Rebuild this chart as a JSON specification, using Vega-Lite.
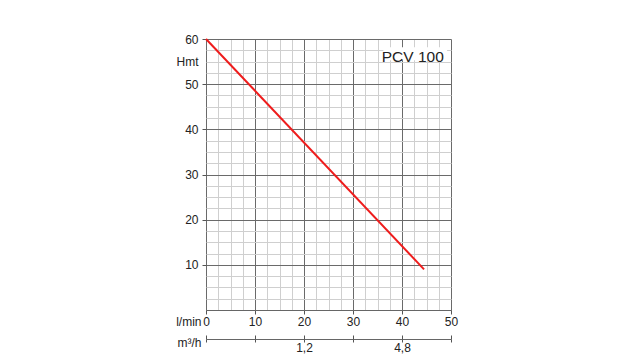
{
  "$schema": "https://vega.github.io/schema/vega-lite/v6.json",
  "width": 245,
  "height": 271,
  "autosize": {"type": "none"},
  "padding": {"left": 206, "top": 39, "right": 169, "bottom": 49},
  "background": "white",
  "config": {
    "view": {"stroke": null},
    "font": "Liberation Sans",
    "axis": {
      "labelFont": "Liberation Sans",
      "titleFont": "Liberation Sans",
      "labelFontSize": 12,
      "titleFontSize": 12,
      "titleFontWeight": "normal",
      "labelColor": "#222",
      "titleColor": "#222",
      "domainColor": "#666",
      "tickColor": "#555"
    }
  },
  "datasets": {
    "curve": [{"q": 0, "h": 60}, {"q": 44.5, "h": 9}],
    "label": [{"q": 42.2, "h": 56.0, "x1": 36.2, "x2": 49.2, "y1": 55.3, "y2": 58.2, "t": "PCV 100"}],
    "dummy": [{"q": 0}]
  },
  "layer": [
    {
      "data": {"name": "curve"},
      "mark": {"type": "line", "color": "#ee1c1c", "strokeWidth": 2},
      "encoding": {
        "x": {
          "field": "q", "type": "quantitative",
          "scale": {"domain": [0, 50], "nice": false, "zero": false},
          "axis": {
            "values": [0, 2.5, 5, 7.5, 10, 12.5, 15, 17.5, 20, 22.5, 25, 27.5, 30, 32.5, 35, 37.5, 40, 42.5, 45, 47.5, 50],
            "labelExpr": "datum.value % 10 === 0 ? datum.label : ''",
            "labelOverlap": false,
            "labelFlush": false,
            "grid": true,
            "gridColor": {"condition": {"test": "datum.value % 10 === 0", "value": "#6a6a6a"}, "value": "#cfcfcf"},
            "tickColor": {"condition": {"test": "datum.value % 10 === 0", "value": "#555"}, "value": "transparent"},
            "tickSize": 4,
            "labelPadding": 2,
            "domainColor": "#666",
            "title": "l/min",
            "titleX": -5,
            "titleY": 11,
            "titleAlign": "right",
            "titleBaseline": "middle",
            "titleAnchor": null
          }
        },
        "y": {
          "field": "h", "type": "quantitative",
          "scale": {"domain": [0, 60], "nice": false, "zero": false},
          "axis": {
            "values": [0, 2.5, 5, 7.5, 10, 12.5, 15, 17.5, 20, 22.5, 25, 27.5, 30, 32.5, 35, 37.5, 40, 42.5, 45, 47.5, 50, 52.5, 55, 57.5, 60],
            "labelExpr": "(datum.value % 10 === 0 && datum.value > 0) ? datum.label : ''",
            "labelOverlap": false,
            "labelFlush": false,
            "grid": true,
            "gridColor": {"condition": {"test": "datum.value % 10 === 0", "value": "#6a6a6a"}, "value": "#cfcfcf"},
            "tickColor": {"condition": {"test": "datum.value % 10 === 0 && datum.value > 0", "value": "#555"}, "value": "transparent"},
            "tickSize": 4,
            "labelPadding": 4,
            "domain": false,
            "title": "Hmt",
            "titleAngle": 0,
            "titleX": -8,
            "titleY": 22,
            "titleAlign": "right",
            "titleBaseline": "middle",
            "titleAnchor": null
          }
        }
      }
    },
    {
      "data": {"name": "label"},
      "mark": {"type": "rect", "color": "white"},
      "encoding": {
        "x": {"field": "x1", "type": "quantitative", "scale": {"domain": [0, 50], "nice": false, "zero": false}, "axis": null},
        "x2": {"field": "x2"},
        "y": {"field": "y1", "type": "quantitative", "scale": {"domain": [0, 60], "nice": false, "zero": false}, "axis": null},
        "y2": {"field": "y2"}
      }
    },
    {
      "data": {"name": "label"},
      "mark": {"type": "text", "font": "Liberation Sans", "fontSize": 15.5, "color": "#222", "align": "center", "baseline": "middle"},
      "encoding": {
        "x": {"field": "q", "type": "quantitative", "scale": {"domain": [0, 50], "nice": false, "zero": false}, "axis": null},
        "y": {"field": "h", "type": "quantitative", "scale": {"domain": [0, 60], "nice": false, "zero": false}, "axis": null},
        "text": {"field": "t"}
      }
    },
    {
      "data": {"name": "dummy"},
      "mark": {"type": "point", "opacity": 0},
      "encoding": {
        "x": {
          "field": "q", "type": "quantitative",
          "scale": {"domain": [0, 50], "nice": false, "zero": false},
          "axis": {
            "orient": "bottom",
            "offset": 29,
            "values": [0, 10, 20, 30, 40, 50],
            "labelExpr": "datum.value === 20 ? '1,2' : (datum.value === 40 ? '4,8' : '')",
            "labelOverlap": false,
            "labelFlush": false,
            "grid": false,
            "tickSize": 3,
            "labelPadding": 0,
            "domainColor": "#666",
            "tickColor": "#555",
            "title": "m³/h",
            "titleX": -5,
            "titleY": 3,
            "titleAlign": "right",
            "titleBaseline": "middle",
            "titleAnchor": null
          }
        }
      }
    },
    {
      "data": {"name": "dummy"},
      "mark": {"type": "point", "opacity": 0},
      "encoding": {
        "x": {
          "field": "q", "type": "quantitative",
          "scale": {"domain": [0, 50], "nice": false, "zero": false},
          "axis": {
            "orient": "bottom",
            "offset": 29,
            "values": [0, 10, 20, 30, 40, 50],
            "labels": false,
            "domain": false,
            "grid": false,
            "tickSize": -4,
            "tickColor": "#555",
            "title": null
          }
        }
      }
    }
  ],
  "resolve": {"axis": {"x": "independent", "y": "independent"}}
}
